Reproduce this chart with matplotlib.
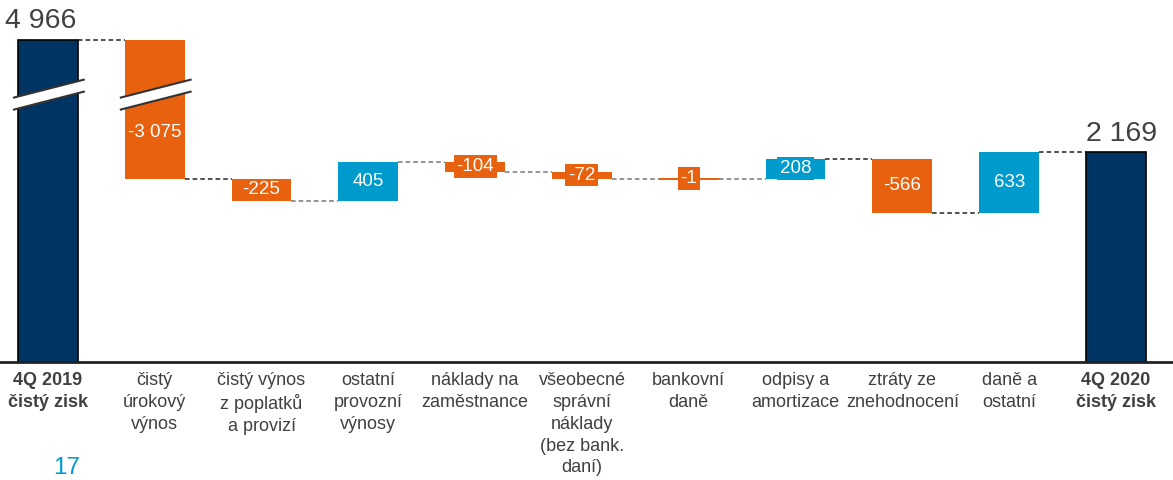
import matplotlib
matplotlib.use("Agg")
import matplotlib.pyplot as plt
from matplotlib.patches import Polygon

plt.rcParams['font.family'] = ['Liberation Sans', 'DejaVu Sans']

# ---- data ----
categories = ["4Q 2019\nčistý zisk", "čistý\núrokový\nvýnos", "čistý výnos\nz poplatků\na provizí",
              "ostatní\nprovozní\nvýnosy", "náklady na\nzaměstnance", "všeobecné\nsprávní\nnáklady\n(bez bank.\ndaní)",
              "bankovní\ndaně", "odpisy a\namortizace", "ztráty ze\nznehodnocení", "daně a\nostatní",
              "4Q 2020\nčistý zisk"]
start_value = 4966
changes = [-3075, -225, 405, -104, -72, -1, 208, -566, 633]
end_value = 2169
start_label = "4 966"
end_label = "2 169"
change_labels = ["-3 075", "-225", "405", "-104", "-72", "-1", "208", "-566", "633"]
page_number = "17"

# ---- styling ----
NAVY = "#003462"
ORANGE = "#E8610E"
BLUE = "#009BCD"
TEXT = "#404040"
BLK = "#222222"
GRY = "#777777"
connector_colors = [BLK, BLK, GRY, GRY, GRY, GRY, GRY, BLK, BLK, BLK]
display_cap = 3328      # broken axis: bars taller than this are cut
break_center = 2760     # centre of break band
break_half = 62
break_rise = 95

fig = plt.figure(figsize=(11.73, 4.8), dpi=100)
ax = fig.add_axes([0, 0, 1, 1])
ax.set_xlim(-0.449, 10.534)
ax.set_ylim(-1219, 3740)
ax.axis('off')

w = 0.56
n = len(categories)

# running totals
levels = [start_value]
for c in changes:
    levels.append(levels[-1] + c)

def disp(v):
    return min(v, display_cap)

# start / end bars
ax.bar(0, disp(start_value), width=w, color=NAVY, edgecolor='black', linewidth=1.2, zorder=3)
ax.bar(n - 1, disp(end_value), width=w, color=NAVY, edgecolor='black', linewidth=1.2, zorder=3)

broken = [0]
for i, c in enumerate(changes, start=1):
    prev = levels[i - 1]
    cur = levels[i]
    lo, hi = min(prev, cur), max(prev, cur)
    col = ORANGE if c < 0 else BLUE
    h = disp(hi) - lo
    minh = 18
    ax.bar(i, max(h, minh), bottom=lo if h >= minh else lo - minh / 2, width=w, color=col,
           linewidth=0, zorder=3)
    if hi > display_cap:
        broken.append(i)
        ypos = lo + 0.6 * (break_center - break_half - lo)
    else:
        ypos = (lo + hi) / 2
    ax.text(i, ypos, change_labels[i - 1], ha='center', va='center', color='white', fontsize=13.5,
            zorder=5, bbox=dict(boxstyle='square,pad=0.15', facecolor=col, edgecolor='none'))

# connectors
for i in range(n - 1):
    lvl = disp(levels[i])
    ax.plot([i + w / 2, i + 1 - w / 2], [lvl, lvl], ls=(0, (3, 2)), color=connector_colors[i],
            lw=1.1, zorder=2)

# break marks
ext_l = 0.047
ext_r = 0.065
for i in broken:
    x0 = i - w / 2 - ext_l
    x1 = i + w / 2 + ext_r
    xc = i
    def yat(x, off):
        return break_center + off + (x - xc) / (x1 - x0) * break_rise * 2
    poly = Polygon([(x0, yat(x0, -break_half)), (x1, yat(x1, -break_half)),
                    (x1, yat(x1, break_half)), (x0, yat(x0, break_half))],
                   closed=True, facecolor='white', edgecolor='none', zorder=6)
    ax.add_patch(poly)
    for off in (-break_half, break_half):
        ax.plot([x0, x1], [yat(x0, off), yat(x1, off)], color='#333333', lw=1.5, zorder=7,
                solid_capstyle='butt')

# totals labels
ax.annotate(start_label, (0, disp(start_value)), xytext=(-5, 4), textcoords='offset points',
            ha='center', va='bottom', fontsize=20.5, color=TEXT)
ax.annotate(end_label, (n - 1, disp(end_value)), xytext=(4, 4), textcoords='offset points',
            ha='center', va='bottom', fontsize=20.5, color=TEXT)

# baseline
ax.axhline(0, color='#222222', lw=2, zorder=4)

# category labels
for i, lab in enumerate(categories):
    bold = i in (0, n - 1)
    ax.annotate(lab, (i, 0), xytext=(0, -7), textcoords='offset points', ha='center', va='top',
                fontsize=13, color=TEXT, fontweight='bold' if bold else 'normal', linespacing=1.38)

fig.text(67 / 1173, 6 / 480, page_number, ha='center', va='baseline', fontsize=17.5, color=BLUE)

fig.savefig("out.png", dpi=100)
